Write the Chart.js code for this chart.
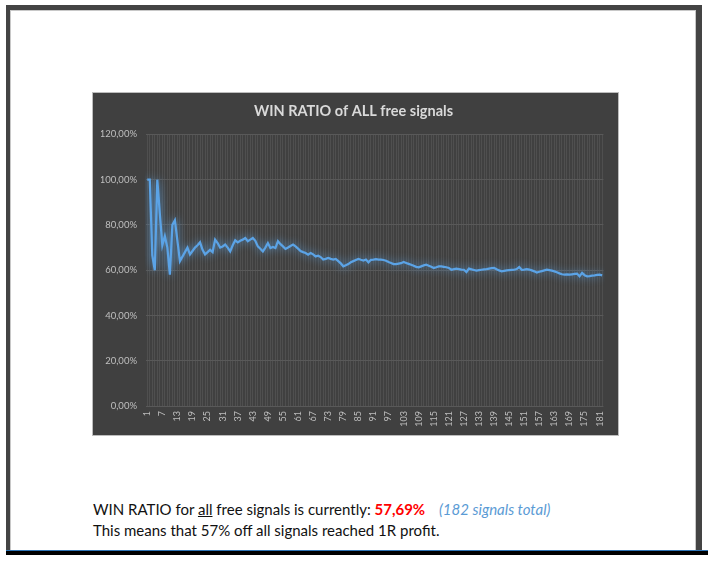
<!DOCTYPE html>
<html>
<head>
<meta charset="utf-8">
<title>WIN RATIO of ALL free signals</title>
<script src="https://cdn.jsdelivr.net/npm/chart.js@4.4.1/dist/chart.umd.min.js"></script>
<style>
  html, body { margin: 0; padding: 0; background: #fff; }
  body { width: 714px; height: 562px; position: relative; overflow: hidden; font-family: Lato, 'Open Sans', sans-serif; }
  .frame { position: absolute; left: 6px; top: 5px; width: 696px; height: 545px; border: solid #444; border-width: 5px 6px 0 4px; box-sizing: border-box; }
  .frame-inner { position: absolute; left: 0; top: 0; right: 0; bottom: 0; border: solid #c8c8c8; border-width: 1px 1px 0 1px; }
  .bottom-blue { position: absolute; left: 6px; top: 550px; width: 702px; height: 1px; background: #2e75b6; }
  .bottom-black { position: absolute; left: 6px; top: 551px; width: 702px; height: 4px; background: #000; }
  .chart-box { position: absolute; left: 92px; top: 92px; width: 527px; height: 344px; background: #404040; border: 1px solid #bdbdbd; box-sizing: border-box; }
  .chart-box canvas { position: absolute; left: 0; top: 0; }
  .note { position: absolute; left: 93px; top: 499px; font-size: 15px; line-height: 21px; color: #111; white-space: nowrap; }
  .note .pct { color: #ff0000; font-weight: bold; }
  .note .total { color: #5b9bd5; font-style: italic; margin-left: 10px; }
</style>
</head>
<body>
<div class="frame"><div class="frame-inner"></div></div>
<div class="bottom-blue"></div>
<div class="bottom-black"></div>

<div class="chart-box">
  <canvas id="chart" width="525" height="342"></canvas>
</div>

<div class="note">
  WIN RATIO for <u>all</u> free signals is currently: <span class="pct">57,69%</span> <span class="total">(182 signals total)</span><br>
  This means that 57% off all signals reached 1R profit.
</div>

<script>
// signal number 1..182
const signals = Array.from({ length: 182 }, (_, i) => String(i + 1));

// cumulative win ratio in %
const winRatio = [
  100, 100, 66.67, 60, 100, 85, 71, 75, 70, 58,
  80, 82, 73, 64, 66, 68, 70, 67, 68.5, 70,
  71, 72.3, 69, 67, 68, 69, 68, 73.5, 72, 70,
  70.5, 71.3, 70, 68.3, 71, 73.2, 72.3, 73, 73.5, 74.2,
  72.8, 73.5, 74.2, 73, 70.5, 69.5, 68.3, 70, 72, 69.8,
  70.3, 69.8, 72.8, 71.5, 70.5, 69.4, 70, 70.7, 71.3, 70.5,
  69.5, 68.5, 68, 67.6, 66.9, 67.6, 67, 66.1, 66.4, 65.8,
  64.7, 65, 65.4, 65, 64.7, 65, 64, 63, 61.7, 62.2,
  62.7, 63.5, 64, 64.5, 65, 64.6, 64.3, 64.7, 63.5, 64.6,
  64.7, 64.9, 64.7, 64.7, 64.5, 64.2, 63.6, 63.2, 62.7, 62.7,
  62.9, 63.1, 63.6, 63.2, 62.8, 62.4, 62, 61.5, 61.3, 61.7,
  62.1, 62.4, 62, 61.5, 61, 61.3, 61.7, 61.7, 61.5, 61.3,
  61, 60.2, 60.5, 60.7, 60.5, 60.3, 60.2, 59.2, 60.7, 60.4,
  60.1, 59.8, 60, 60.2, 60.4, 60.5, 60.7, 60.9, 61, 60.4,
  59.9, 59.5, 59.7, 59.9, 60, 60.1, 60.2, 60.5, 61.4, 60.2,
  60.3, 60.5, 60.3, 59.9, 59.5, 59, 59.3, 59.6, 59.9, 60.2,
  60, 59.8, 59.5, 59.1, 58.6, 58.2, 58, 58.1, 58, 58.2,
  58.4, 58.5, 57.3, 58.8, 57.8, 57.3, 57.4, 57.6, 57.7, 57.9,
  58, 57.69
];

// x labels shown on the axis (every 6th signal)
const xTickLabels = ['1', '7', '13', '19', '25', '31', '37', '43', '49', '55', '61', '67', '73', '79', '85', '91',
  '97', '103', '109', '115', '121', '127', '133', '139', '145', '151', '157', '163', '169', '175', '181'];

const yTicks = [0, 20, 40, 60, 80, 100, 120];

// soft glow under the line, like the excel style
const glow = {
  id: 'glow',
  beforeDatasetDraw(chart) {
    const ctx = chart.ctx;
    ctx.save();
    ctx.shadowColor = 'rgba(91,155,213,1)';
    ctx.shadowBlur = 8;
  },
  afterDatasetDraw(chart) {
    chart.ctx.restore();
  }
};

const ctx = document.getElementById('chart').getContext('2d');
new Chart(ctx, {
  type: 'line',
  data: {
    labels: signals,
    datasets: [{
      label: 'Win ratio',
      data: winRatio,
      borderColor: '#5ba3e6',
      borderWidth: 2.25,
      pointRadius: 0,
      tension: 0,
      fill: false,
    }],
  },
  options: {
    responsive: false,
    animation: false,
    layout: { padding: { left: 8, right: 12, top: 4, bottom: 0 } },
    plugins: {
      legend: { display: false },
      tooltip: { enabled: false },
      title: {
        display: true,
        text: 'WIN RATIO of ALL free signals',
        color: '#d9d9d9',
        font: { family: 'Lato', size: 14.5, weight: 'bold' },
        padding: { top: 6, bottom: 14 },
      },
    },
    scales: {
      x: {
        offset: true,
        grid: { color: 'rgba(255,255,255,0.08)', drawTicks: false, offset: false },
        border: { display: false },
        afterFit: (s) => { s.height = 29; },
        ticks: {
          autoSkip: false,
          minRotation: 90,
          maxRotation: 90,
          padding: 5,
          color: '#bfbfbf',
          font: { family: 'Lato', size: 9 },
          callback: (v, i) => (xTickLabels.includes(signals[i]) ? signals[i] : ''),
        },
      },
      y: {
        min: 0,
        max: 120,
        afterBuildTicks: (s) => { s.ticks = yTicks.map((v) => ({ value: v })); },
        afterFit: (s) => { s.width = 45; },
        grid: { color: '#595959', drawTicks: false },
        border: { display: false },
        ticks: {
          padding: 9,
          color: '#bfbfbf',
          font: { family: 'Lato', size: 9.5 },
          callback: (v) => v.toFixed(2).replace('.', ',') + '%',
        },
      },
    },
  },
  plugins: [glow],
});
</script>
</body>
</html>
